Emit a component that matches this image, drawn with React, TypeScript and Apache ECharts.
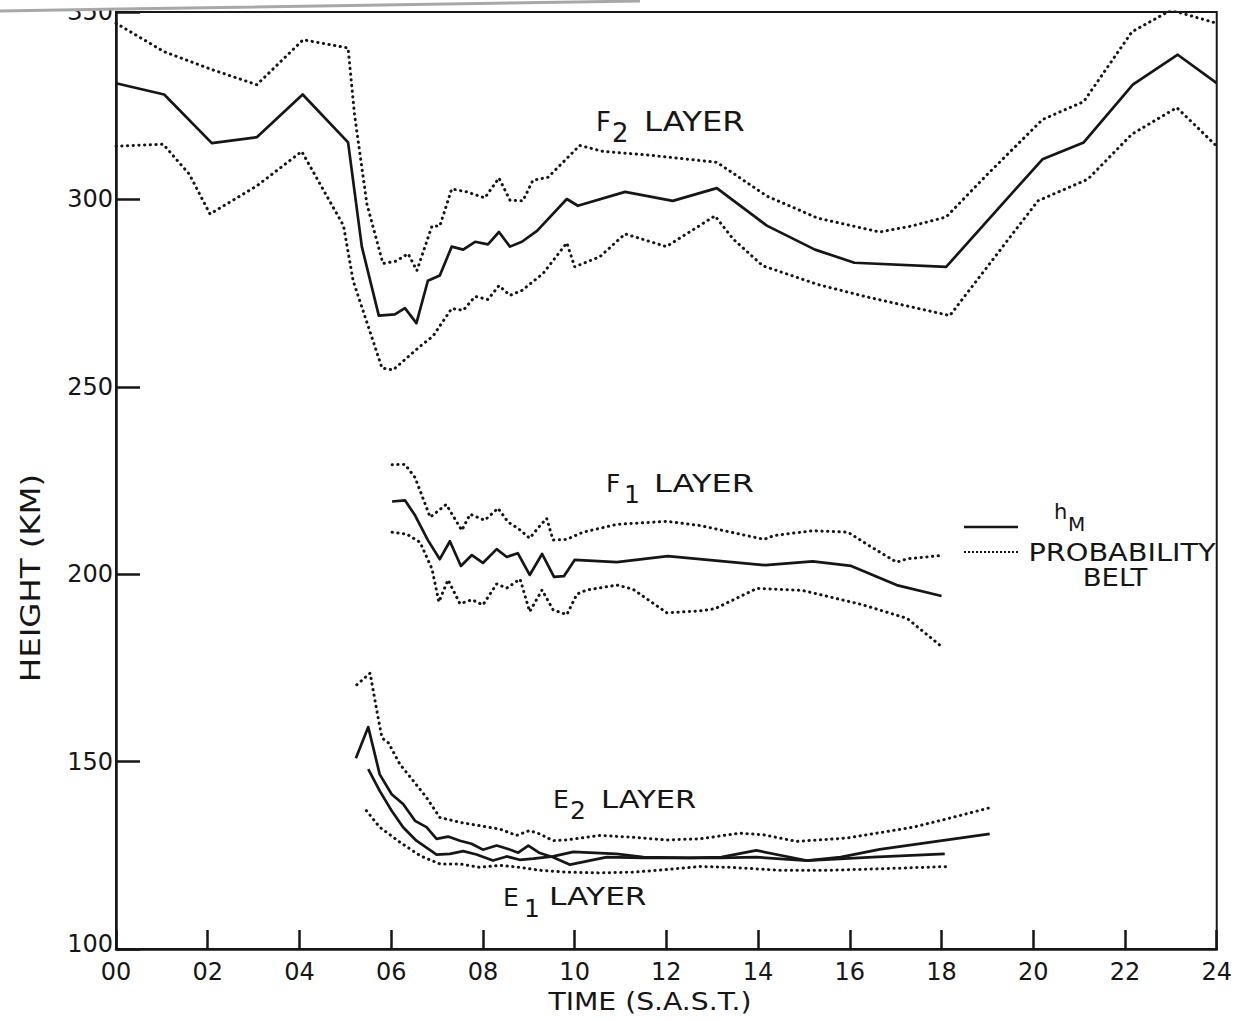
import React, { useEffect, useRef } from 'react';
import * as echarts from 'echarts';

// ---- tick labels ----
const xTickLabels = ['00', '02', '04', '06', '08', '10', '12', '14', '16', '18', '20', '22', '24'];
const yTickValues = [100, 150, 200, 250, 300, 350];

// ---- F2 layer (hour, km) ----
const f2Mean: [number, number][] = [
  [0, 331], [1.05, 328], [2.09, 315], [3.07, 316.6], [4.07, 328], [5.06, 315.2], [5.36, 287.4],
  [5.73, 269], [6.08, 269.3], [6.3, 271], [6.55, 267], [6.8, 278.3], [7.06, 279.7], [7.32, 287.4],
  [7.57, 286.6], [7.83, 288.7], [8.11, 288], [8.35, 291.3], [8.59, 287.4], [8.85, 288.7],
  [9.18, 291.6], [9.83, 300.1], [10.07, 298.3], [11.1, 302], [12.14, 299.6], [13.1, 303],
  [14.19, 293], [15.24, 286.6], [16.1, 283.1], [18.1, 282], [20.2, 310.7], [21.1, 315.2],
  [22.17, 330.6], [23.15, 338.6], [24, 331],
];
const f2Upper: [number, number][] = [
  [0, 347], [1.05, 339.4], [2.1, 334.6], [3.07, 330.6], [4.08, 342.6], [5.06, 340.4], [5.2, 322.7],
  [5.47, 298.8], [5.82, 282.9], [6.1, 283.5], [6.37, 285.5], [6.56, 281], [6.89, 292.9], [7.06, 292.9],
  [7.32, 302.8], [7.65, 302], [8.04, 300.4], [8.35, 305.7], [8.59, 299.8], [8.87, 299.6],
  [9.09, 305.1], [9.42, 305.9], [10.11, 314.4], [10.62, 312.8], [11.64, 311.8], [13.1, 309.9],
  [14.19, 300.9], [15.3, 295], [16.65, 291.3], [17.35, 292.9], [18.1, 295.3], [19.0, 306.7],
  [20.2, 321.3], [21.1, 326.1], [22.15, 344.7], [23.0, 350.5], [24, 347],
];
const f2Lower: [number, number][] = [
  [0, 314.2], [1.03, 314.7], [1.6, 306.7], [2.05, 296.1], [3.07, 303.6], [4.05, 312.8], [4.96, 293],
  [5.17, 278.3], [5.8, 255], [6.04, 254.5], [6.63, 260.8], [6.91, 263.5], [7.32, 270.9], [7.57, 270.4],
  [7.83, 274.1], [8.11, 273.3], [8.35, 277], [8.59, 274.4], [8.85, 275.7], [9.31, 280.2], [9.83, 288.4],
  [10.0, 282], [10.55, 284.7], [11.1, 290.8], [12.0, 287.4], [13.06, 295.6], [13.45, 289.5],
  [14.1, 282.3], [15.3, 277.3], [16.33, 274.1], [17.2, 271.7], [18.18, 269], [20.1, 299.6],
  [21.19, 305.4], [22.15, 317.4], [23.13, 324.5], [24, 314.2],
];

// ---- F1 layer ----
const f1Mean: [number, number][] = [
  [6.02, 219.4], [6.3, 219.7], [6.52, 215.7], [6.8, 209.1], [7.06, 204], [7.28, 208.8], [7.52, 202.2],
  [7.76, 205.1], [8.0, 203], [8.3, 206.7], [8.52, 204.6], [8.76, 205.6], [9.02, 199.8], [9.29, 205.4],
  [9.55, 199.3], [9.77, 199.5], [10.0, 203.8], [10.92, 203.2], [12.03, 204.8], [14.16, 202.4],
  [15.19, 203.4], [16.03, 202.2], [17.02, 197.1], [18.0, 194.2],
];
const f1Upper: [number, number][] = [
  [6.02, 229.2], [6.3, 229.3], [6.52, 225.8], [6.85, 215.2], [7.2, 218.6], [7.54, 211.7], [7.72, 216],
  [8.04, 214.4], [8.33, 217.6], [8.55, 213.9], [8.76, 212.3], [9.02, 209.6], [9.2, 212.3], [9.39, 214.9],
  [9.53, 209.1], [9.83, 209.3], [10.18, 211.2], [10.92, 213.3], [12.01, 214.1], [12.73, 213],
  [14.13, 209.3], [14.34, 210.3], [15.19, 211.6], [15.96, 211.2], [16.41, 207.7], [17.02, 203.2],
  [17.25, 204.1], [18.0, 205],
];
const f1Lower: [number, number][] = [
  [6.02, 211.2], [6.34, 210.7], [6.63, 208.5], [6.89, 201.4], [7.04, 192.6], [7.13, 195.3], [7.24, 198.5],
  [7.5, 192.1], [7.76, 193.2], [8.0, 191.8], [8.3, 197.4], [8.52, 196.3], [8.81, 198.7], [9.02, 190],
  [9.29, 195.8], [9.53, 190.5], [9.83, 189.2], [10.05, 194.7], [10.27, 195.8], [10.92, 197.1],
  [11.27, 196], [12.01, 189.7], [12.73, 190.2], [13.06, 190.8], [13.97, 196.2], [14.96, 195.7],
  [16.26, 191.9], [17.25, 188.2], [18.0, 180.7],
];

// ---- E2 layer ----
const e2Mean: [number, number][] = [
  [5.23, 150.9], [5.5, 159.2], [5.75, 146.6], [6.01, 141.3], [6.26, 138.7], [6.52, 134.2], [6.77, 132.5],
  [6.99, 129.4], [7.24, 130], [7.5, 128.9], [7.75, 128.1], [8.0, 126.5], [8.3, 127.6], [8.55, 126.7],
  [8.77, 125.7], [8.99, 127.6], [9.24, 125.6], [9.53, 124.5], [9.9, 122.5], [10.7, 124.5],
  [11.5, 124.3], [12.5, 124.3], [13.2, 124.5], [13.96, 126.3], [15.06, 123.6], [15.8, 124.5],
  [16.65, 126.6], [19.05, 130.7],
];
const e2Upper: [number, number][] = [
  [5.25, 170.5], [5.54, 173.6], [5.69, 163.4], [5.8, 156.3], [5.94, 155], [6.19, 149.3], [6.48, 144.9],
  [6.77, 140.4], [7.06, 135.1], [7.5, 133.8], [7.93, 132.9], [8.37, 132], [8.73, 130.3], [9.02, 131.6],
  [9.24, 130.7], [9.53, 128.9], [9.82, 129.1], [10.55, 130.3], [11.28, 129.8], [12.0, 129.1],
  [12.73, 129.4], [13.6, 130.9], [14.11, 130.5], [14.84, 128.7], [15.93, 129.6], [17.38, 132.5],
  [18.11, 134.7], [19.09, 137.8],
];

// ---- E1 layer ----
const e1Mean: [number, number][] = [
  [5.5, 148], [5.75, 142.2], [6.01, 136.9], [6.26, 132.5], [6.55, 128.9], [6.99, 125.2], [7.28, 125.4],
  [7.57, 126.1], [7.86, 125.2], [8.22, 123.6], [8.52, 124.7], [8.8, 123.8], [9.1, 124.1], [9.53, 124.7],
  [9.97, 125.9], [10.91, 125.4], [11.5, 124.5], [12.5, 124.3], [13.2, 124.3], [13.96, 124.5],
  [15.06, 123.6], [16.5, 124.5], [18.07, 125.4],
];
const e1Lower: [number, number][] = [
  [5.46, 136.9], [5.75, 132.5], [6.19, 128.5], [6.63, 124.9], [7.06, 122.7], [7.5, 122.7], [7.93, 121.8],
  [8.37, 122.3], [8.81, 121.8], [9.24, 121], [9.82, 120.5], [10.55, 120.3], [11.28, 120.5], [12.0, 121.2],
  [12.73, 122], [13.38, 121.8], [14.47, 121], [15.56, 121], [16.65, 121.4], [18.14, 122],
];

const INK = '#161616';
const FONT = '"DejaVu Sans", "Noto Sans", sans-serif';

export default function App() {
  const ref = useRef<HTMLDivElement>(null);

  useEffect(() => {
    document.body.style.margin = '0';
    const chart = echarts.init(ref.current!, null, { renderer: 'svg' });

    const solid = (name: string, data: [number, number][]) => ({
      type: 'line', name, data, symbol: 'none', silent: true, clip: true,
      lineStyle: { color: INK, width: 2.7, join: 'round' },
    });
    const dotted = (name: string, data: [number, number][]) => ({
      type: 'line', name, data, symbol: 'none', silent: true, clip: true,
      lineStyle: { color: INK, width: 3, type: [0.3, 5.4], cap: 'round' },
    });

    const txt = (text: string, x: number, y: number, size: number, o: any = {}) => ({
      type: 'text', x, y, z: 100, scaleX: o.sx ?? 1, rotation: o.rot ?? 0,
      style: {
        text, fontSize: size, fontFamily: FONT, fill: INK,
        align: o.align ?? 'left', verticalAlign: 'middle',
      },
    });

    chart.setOption({
      animation: false,
      backgroundColor: '#ffffff',
      grid: { left: 116, right: 18, top: 9, bottom: 71, show: true, borderColor: INK, borderWidth: 2 },
      xAxis: {
        type: 'value', min: 0, max: 24, interval: 2,
        axisLine: { show: true, lineStyle: { color: INK, width: 2.5 } },
        axisTick: { show: true, inside: true, length: 19, lineStyle: { color: INK, width: 2.5 } },
        axisLabel: {
          fontSize: 24, fontFamily: FONT, color: INK, margin: 11,
          formatter: (v: number) => xTickLabels[Math.round(v / 2)] ?? '',
        },
        splitLine: { show: false },
      },
      yAxis: {
        type: 'value', min: yTickValues[0], max: yTickValues[yTickValues.length - 1], interval: 50,
        axisLine: { show: true, lineStyle: { color: INK, width: 2.5 } },
        axisTick: { show: true, inside: true, length: 24, lineStyle: { color: INK, width: 2.5 } },
        axisLabel: {
          fontSize: 24, fontFamily: FONT, color: INK, margin: 3,
          formatter: (v: number) => (v === yTickValues[0] ? '{low|' + v + '}' : String(v)),
          rich: { low: { fontSize: 24, fontFamily: FONT, color: INK, padding: [0, 0, 10, 0] } },
        },
        splitLine: { show: false },
      },
      series: [
        solid('F2 hM', f2Mean), dotted('F2 upper', f2Upper), dotted('F2 lower', f2Lower),
        solid('F1 hM', f1Mean), dotted('F1 upper', f1Upper), dotted('F1 lower', f1Lower),
        solid('E2 hM', e2Mean), dotted('E2 upper', e2Upper),
        solid('E1 hM', e1Mean), dotted('E1 lower', e1Lower),
      ],
      graphic: [
        // scan edge at the top
        { type: 'rect', z: 90, shape: { x: 0, y: 0, width: 116, height: 9 }, style: { fill: '#ffffff' } },
        { type: 'polyline', z: 95, shape: { points: [[0, 11], [120, 9], [640, 1]] }, style: { stroke: '#a8a8a8', lineWidth: 3, fill: 'none' } },

        // layer labels
        txt('F', 596, 122, 26), txt('2', 612, 133, 26), txt('LAYER', 644, 122, 26, { sx: 1.24 }),
        txt('F', 606, 483, 25), txt('1', 624, 494, 25), txt('LAYER', 654, 483, 25, { sx: 1.28 }),
        txt('E', 553, 799, 25), txt('2', 570, 810, 25), txt('LAYER', 601, 799, 25, { sx: 1.22 }),
        txt('E', 503, 897, 25), txt('1', 524, 908, 25), txt('LAYER', 549, 897, 25, { sx: 1.25 }),

        // legend
        { type: 'line', z: 100, shape: { x1: 964, y1: 527, x2: 1018, y2: 527 }, style: { stroke: INK, lineWidth: 2.7 } },
        { type: 'line', z: 100, shape: { x1: 964, y1: 552, x2: 1018, y2: 552 }, style: { stroke: INK, lineWidth: 1.8, lineDash: [2, 2] } },
        txt('h', 1054, 512, 21), txt('M', 1068, 524, 20),
        txt('PROBABILITY', 1122, 552, 25, { align: 'center', sx: 1.15 }),
        txt('BELT', 1115, 577, 25, { align: 'center', sx: 1.1 }),

        // axis titles
        txt('HEIGHT (KM)', 30, 578, 27, { align: 'center', rot: Math.PI / 2, sx: 1.2 }),
        txt('TIME (S.A.S.T.)', 650, 1001, 25, { align: 'center', sx: 1.13 }),
      ],
    });

    return () => chart.dispose();
  }, []);

  return (
    <div
      ref={ref}
      style={{ position: 'absolute', left: 0, top: 0, width: 1235, height: 1020, background: '#fff' }}
    />
  );
}
